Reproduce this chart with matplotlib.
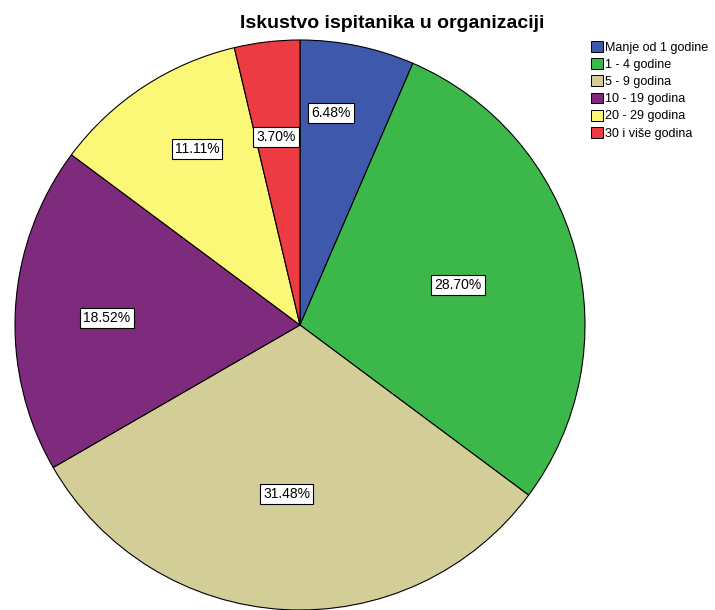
import matplotlib
matplotlib.use("Agg")
import matplotlib.pyplot as plt
from matplotlib.patches import Patch

plt.rcParams['font.family'] = ['Liberation Sans', 'DejaVu Sans']

categories = ["Manje od 1 godine", "1 - 4 godine", "5 - 9 godina",
              "10 - 19 godina", "20 - 29 godina", "30 i više godina"]
percent = [6.48, 28.70, 31.48, 18.52, 11.11, 3.70]
colors = ["#3e58ab", "#3cb84b", "#d3cd98", "#7e2a7d", "#fbf877", "#ec3b42"]
# where each percentage label sits, in units of the pie radius
label_xy = [(0.109, 0.744), (0.554, 0.140), (-0.046, -0.593),
            (-0.677, 0.025), (-0.361, 0.618), (-0.084, 0.660)]

fig = plt.figure(figsize=(7.15, 6.1), dpi=100)
ax = fig.add_axes([15/715, 0/610, 570/715, 570/610])

wedges, _ = ax.pie(percent, colors=colors, startangle=90, counterclock=False,
                   radius=1.0, wedgeprops=dict(edgecolor="black", linewidth=0.8))

for p, (x, y) in zip(percent, label_xy):
    ax.text(x, y, f"{p:.2f}%", ha="center", va="center", fontsize=10,
            bbox=dict(boxstyle="square,pad=0.22", facecolor="white",
                      edgecolor="black", linewidth=0.8))

ax.set_xlim(-1, 1)
ax.set_ylim(-1, 1)
ax.set_aspect("equal")
ax.axis("off")

fig.text(392/715, 1 - 23/610, "Iskustvo ispitanika u organizaciji",
         ha="center", va="center", fontsize=14, fontweight="bold")

handles = [Patch(facecolor=c, edgecolor="black", linewidth=0.7) for c in colors]
fig.legend(handles, categories, loc="upper left",
           bbox_to_anchor=(586/715, 1 - 36/610), frameon=False,
           fontsize=9, handlelength=0.95, handleheight=0.95,
           handletextpad=0.2, labelspacing=0.36, borderaxespad=0)

fig.savefig("out.png", dpi=100, facecolor="white")
